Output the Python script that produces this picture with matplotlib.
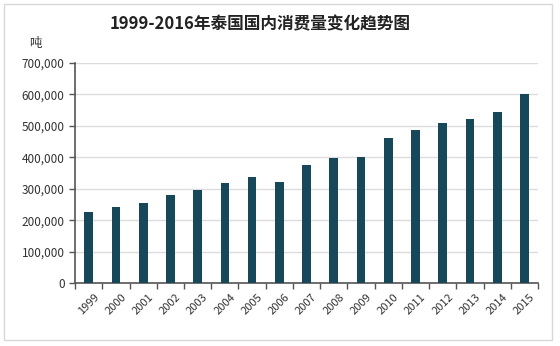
import matplotlib
matplotlib.use("Agg")
import matplotlib.pyplot as plt
from matplotlib.patches import Rectangle
import numpy as np

plt.rcParams['font.family'] = ['Noto Sans CJK SC', 'DejaVu Sans']

years = ['1999', '2000', '2001', '2002', '2003', '2004', '2005', '2006', '2007',
         '2008', '2009', '2010', '2011', '2012', '2013', '2014', '2015']
consumption = [225000, 243000, 254000, 279000, 296000, 318000, 336000, 320000, 375000,
               397000, 400000, 460000, 486000, 507000, 521000, 543000, 600000]
yticks = [0, 100000, 200000, 300000, 400000, 500000, 600000, 700000]

fig = plt.figure(figsize=(5.6, 3.46), dpi=100)
fig.patches.append(Rectangle((0.007, 0.017), 0.979, 0.97, transform=fig.transFigure,
                             fill=False, edgecolor='#d8d8d8', linewidth=1))
ax = fig.add_axes([0.134, 0.181, 0.827, 0.638])

x = np.arange(len(years))
ax.bar(x, consumption, width=0.32, color='#17485a', zorder=3)

ax.set_xlim(-0.5, len(years) - 0.5)
ax.set_ylim(0, 700000)
ax.set_yticks(yticks)
ax.set_yticklabels([f'{v:,}' for v in yticks], fontsize=8.5, color='#333333')
ax.set_xticks(x)
ax.set_xticklabels(years, rotation=45, fontsize=8, color='#333333')
ax.tick_params(axis='x', length=0, pad=6)
ax.set_xticks(np.arange(-0.5, len(years)), minor=True)
ax.tick_params(axis='x', which='minor', length=4, color='#555555', width=1)
ax.tick_params(axis='y', length=4, color='#555555', width=1)

ax.grid(axis='y', color='#dcdcdc', linewidth=1, zorder=0)
for s in ['top', 'right']:
    ax.spines[s].set_visible(False)
for s in ['left', 'bottom']:
    ax.spines[s].set_color('#555555')
    ax.spines[s].set_linewidth(1.2)

fig.text(0.464, 0.93, '1999-2016年泰国国内消费量变化趋势图', ha='center', va='center',
         fontsize=12, fontweight='bold', color='#222222')
fig.text(0.063, 0.875, '吨', ha='center', va='center', fontsize=9, color='#333333')

fig.savefig('out.png', dpi=100)
